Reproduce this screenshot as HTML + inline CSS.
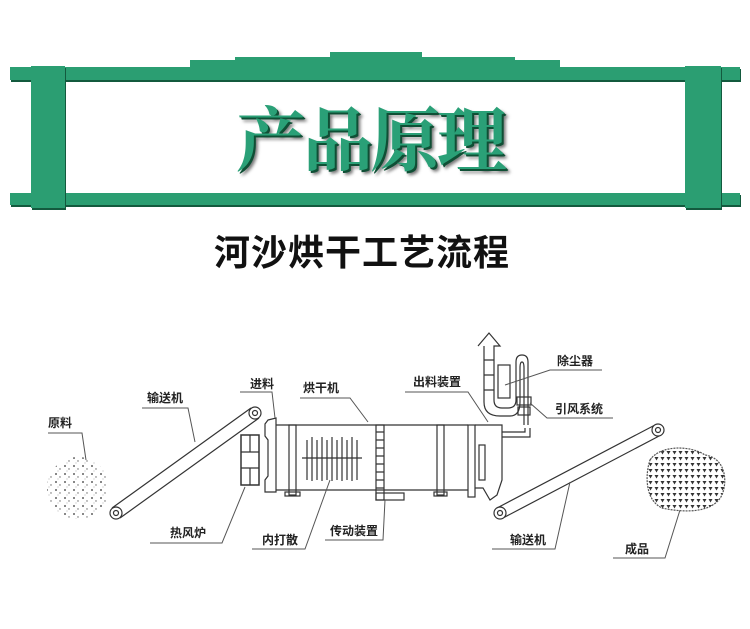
<!DOCTYPE html>
<html><head><meta charset="utf-8"><style>
html,body{margin:0;padding:0;background:#fff;}
body{width:750px;height:629px;position:relative;overflow:hidden;font-family:"Liberation Sans","Noto Sans CJK SC",sans-serif;}
.g{position:absolute;background:#2b9e72;box-shadow:1px 2px 0 #135a3e;}
.t{position:absolute;left:236px;top:96px;width:320px;font-size:70px;line-height:80px;color:#2aa077;font-family:"Noto Serif CJK SC","Noto Sans CJK SC",serif;font-weight:bold;letter-spacing:-3px;text-shadow:2px 2px 0 #0f4f35,4px 4px 3px #777;white-space:nowrap;}
.s{position:absolute;left:214px;top:228px;font-size:36px;line-height:44px;font-weight:bold;color:#111;letter-spacing:1px;font-family:"Noto Sans CJK SC",sans-serif;}
</style></head><body>
<div class="g" style="left:10px;top:67px;width:730px;height:13px"></div>
<div class="g" style="left:190px;top:60px;width:370px;height:10px;box-shadow:none"></div>
<div class="g" style="left:235px;top:57px;width:280px;height:8px;box-shadow:none"></div>
<div class="g" style="left:330px;top:52px;width:92px;height:8px;box-shadow:none"></div>
<div class="g" style="left:10px;top:193px;width:730px;height:12px"></div>
<div class="g" style="left:31px;top:66px;width:34px;height:142px"></div>
<div class="g" style="left:685px;top:66px;width:36px;height:142px"></div>
<div class="t">产品原理</div>
<div class="s">河沙烘干工艺流程</div>
<svg width="750" height="629" style="position:absolute;left:0;top:0" font-family="Noto Sans CJK SC,sans-serif" font-size="12" font-weight="bold">
<defs>
<pattern id="sp" width="9" height="8" patternUnits="userSpaceOnUse"><circle cx="2" cy="2" r="0.9" fill="#333"/><circle cx="6" cy="5" r="0.7" fill="#666"/><circle cx="4" cy="7" r="0.5" fill="#999"/></pattern>
<pattern id="tr" width="6" height="6" patternUnits="userSpaceOnUse"><rect width="6" height="6" fill="#fff"/><path d="M0.5 1h4l-2 3.5z" fill="#333"/></pattern>
</defs>
<g stroke="#333" fill="none" stroke-width="1.2">
<circle cx="78" cy="488" r="31" fill="url(#sp)" stroke="none"/>
<path d="M650 460 C660 445 690 445 705 455 C725 458 728 480 722 495 C712 515 680 512 662 508 C645 500 645 475 650 460z" fill="url(#tr)" stroke="#555" stroke-dasharray="2 1"/>
<path d="M112 508 L251 408 M120 518 L259 418"/>
<circle cx="116" cy="513" r="6" fill="#fff"/><circle cx="116" cy="513" r="2.5"/>
<circle cx="255" cy="413" r="6" fill="#fff"/><circle cx="255" cy="413" r="2.5"/>
<path d="M497 508 L655 425 M503 518 L661 435"/>
<circle cx="500" cy="513" r="6" fill="#fff"/><circle cx="500" cy="513" r="2.5"/>
<circle cx="658" cy="430" r="6" fill="#fff"/><circle cx="658" cy="430" r="2.5"/>
<rect x="241" y="435" width="18" height="50" stroke-width="1.5"/>
<path d="M241 452h18M241 468h18M250 435v17M250 468v17"/>
<path d="M268 420 L276 418 L276 492 L265 492 L265 480 L268 476 L268 440 L265 436 L265 424z"/>
<path d="M276 425 H468 M276 490 H468"/>
<rect x="289" y="425" width="7" height="70"/><rect x="285" y="492" width="15" height="4"/>
<rect x="376" y="425" width="8" height="75"/><path d="M376 432h8M376 440h8M376 448h8M376 456h8M376 464h8M376 472h8M376 480h8M376 488h8"/>
<rect x="376" y="493" width="28" height="7"/>
<rect x="437" y="425" width="7" height="70"/><rect x="434" y="492" width="13" height="4"/>
<path d="M307 440v40M312 437v44M317 440v40M322 437v44M327 440v40M332 437v44M337 440v40M342 437v44M347 440v40M352 437v44M357 440v40M302 458h60"/>
<rect x="468" y="425" width="7" height="72"/>
<path d="M475 425 H502 V432 H525 V428 M502 437 H530 V428 M502 432 V480 L497 495 L490 500 L483 488 H475"/>
<rect x="479" y="445" width="6" height="35"/>
<path d="M478 346 L489 333 L500 346 H494 V400 Q494 408 502 408 H508 Q516 408 516 400 V362 Q516 355 522 355 Q528 355 528 362 V425 M484 346 V402 Q484 416 500 416 H510 Q520 416 520 402 V368 Q520 362 522 362 Q524 362 524 368 V425"/>
<path d="M484 360h10M484 375h10M484 390h10"/>
<rect x="498" y="365" width="12" height="33"/>
<rect x="517" y="397" width="14" height="8"/><rect x="518" y="407" width="12" height="8"/>
<g stroke="#555" stroke-width="1">
<path d="M48 433H82L86 460"/>
<path d="M142 408H188L195 442"/>
<path d="M240 392H272L275 418"/>
<path d="M300 398H350L368 422"/>
<path d="M405 392H468L488 422"/>
<path d="M150 543H222L245 487"/>
<path d="M252 549H305L330 480"/>
<path d="M325 540H383L385 500"/>
<path d="M602 370H550L505 385"/>
<path d="M613 418H547L530 403"/>
<path d="M492 549H555L570 482"/>
<path d="M613 558H665L680 510"/>
</g>
</g>
<g fill="#222">
<text x="48" y="427">原料</text>
<text x="147" y="402">输送机</text>
<text x="250" y="388">进料</text>
<text x="303" y="392">烘干机</text>
<text x="413" y="386">出料装置</text>
<text x="557" y="365">除尘器</text>
<text x="555" y="413">引风系统</text>
<text x="170" y="537">热风炉</text>
<text x="262" y="544">内打散</text>
<text x="330" y="535">传动装置</text>
<text x="510" y="544">输送机</text>
<text x="625" y="553">成品</text>
</g>
</svg>
</body></html>
